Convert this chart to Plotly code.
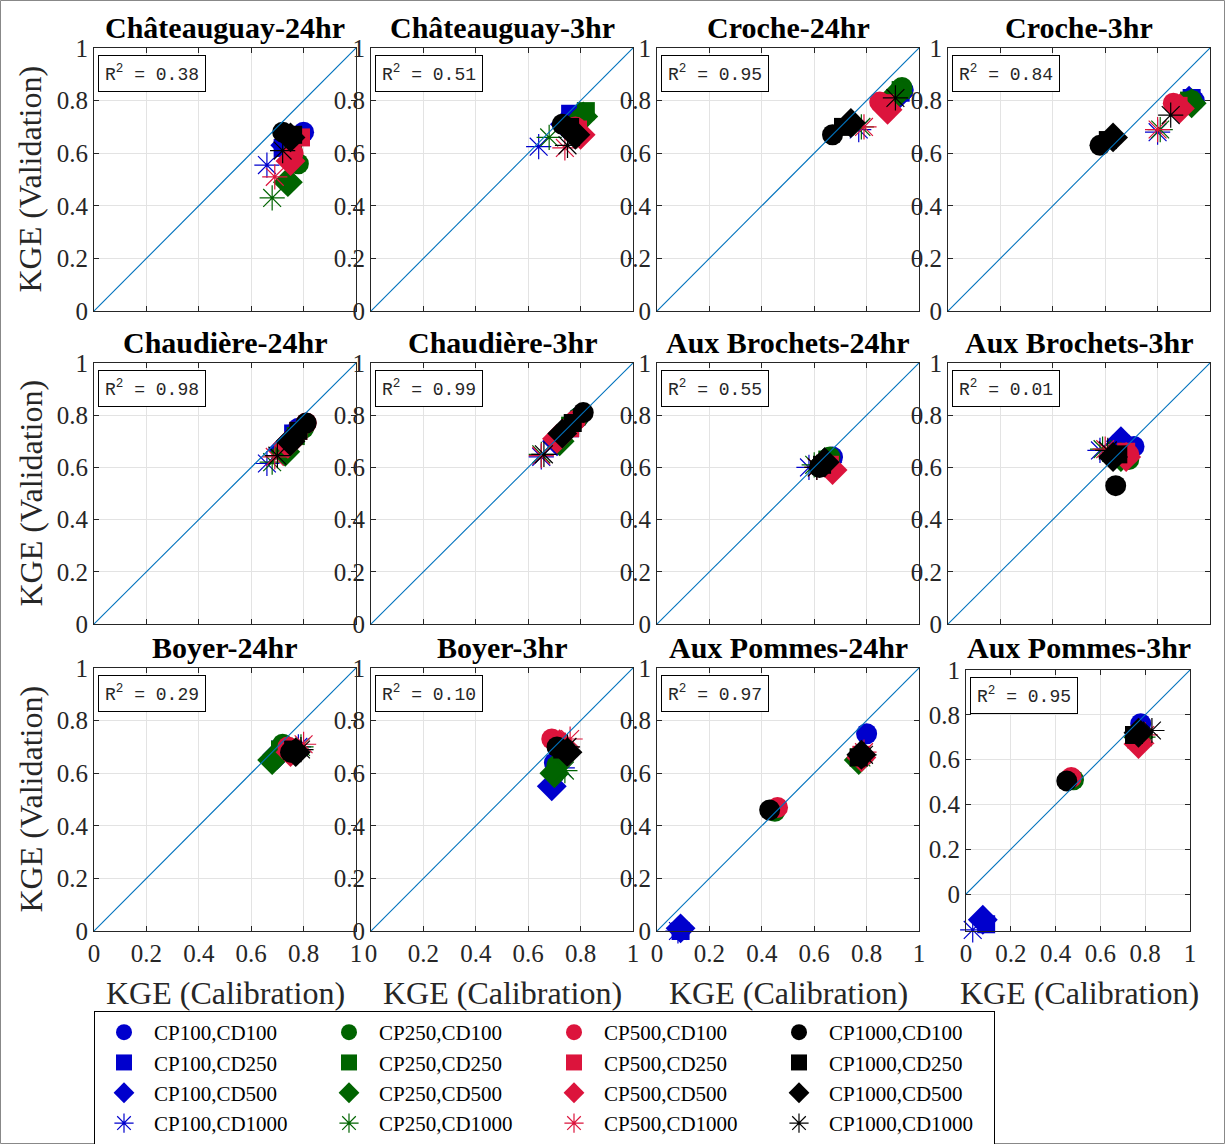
import plotly.graph_objects as go

W, H = 1225, 1144

titles = ["Châteauguay-24hr", "Châteauguay-3hr", "Croche-24hr", "Croche-3hr",
          "Chaudière-24hr", "Chaudière-3hr", "Aux Brochets-24hr", "Aux Brochets-3hr",
          "Boyer-24hr", "Boyer-3hr", "Aux Pommes-24hr", "Aux Pommes-3hr"]
r2_values = ["0.38", "0.51", "0.95", "0.84", "0.98", "0.99", "0.55", "0.01",
             "0.29", "0.10", "0.97", "0.95"]

cps = ["CP100", "CP250", "CP500", "CP1000"]
cds = ["CD100", "CD250", "CD500", "CD1000"]

# Series order: CP100(CD100,CD250,CD500,CD1000), CP250(...), CP500(...), CP1000(...)
chat24_x = [0.80, 0.72, 0.73, 0.66, 0.78, 0.76, 0.74, 0.68, 0.76, 0.79, 0.75, 0.69, 0.72, 0.76, 0.75, 0.72]
chat24_y = [0.68, 0.62, 0.63, 0.555, 0.56, 0.60, 0.49, 0.43, 0.60, 0.66, 0.57, 0.51, 0.68, 0.67, 0.66, 0.61]
chat3_x = [0.77, 0.76, 0.74, 0.64, 0.80, 0.82, 0.81, 0.68, 0.78, 0.79, 0.80, 0.74, 0.73, 0.76, 0.78, 0.75]
chat3_y = [0.74, 0.75, 0.71, 0.625, 0.73, 0.76, 0.74, 0.66, 0.70, 0.69, 0.67, 0.62, 0.71, 0.70, 0.67, 0.63]
croche24_x = [0.94, 0.93, 0.92, 0.77, 0.935, 0.93, 0.92, 0.78, 0.85, 0.87, 0.88, 0.79, 0.67, 0.71, 0.74, 0.91]
croche24_y = [0.84, 0.83, 0.82, 0.69, 0.85, 0.84, 0.83, 0.70, 0.795, 0.79, 0.765, 0.70, 0.67, 0.70, 0.715, 0.81]
croche3_x = [0.94, 0.93, 0.92, 0.80, 0.93, 0.92, 0.93, 0.81, 0.86, 0.88, 0.885, 0.80, 0.58, 0.61, 0.63, 0.85]
croche3_y = [0.80, 0.81, 0.80, 0.68, 0.80, 0.80, 0.79, 0.69, 0.79, 0.78, 0.77, 0.69, 0.63, 0.65, 0.66, 0.745]
chaud24_x = [0.78, 0.76, 0.72, 0.66, 0.80, 0.77, 0.73, 0.68, 0.81, 0.78, 0.74, 0.69, 0.81, 0.78, 0.75, 0.70]
chaud24_y = [0.75, 0.73, 0.67, 0.615, 0.75, 0.72, 0.66, 0.62, 0.77, 0.74, 0.69, 0.64, 0.77, 0.74, 0.70, 0.645]
chaud3_x = [0.79, 0.76, 0.71, 0.65, 0.79, 0.76, 0.72, 0.65, 0.78, 0.76, 0.71, 0.65, 0.81, 0.77, 0.73, 0.66]
chaud3_y = [0.79, 0.75, 0.70, 0.64, 0.79, 0.76, 0.70, 0.65, 0.78, 0.75, 0.71, 0.645, 0.81, 0.77, 0.73, 0.65]
broch24_x = [0.67, 0.66, 0.65, 0.58, 0.66, 0.65, 0.64, 0.60, 0.65, 0.66, 0.67, 0.61, 0.62, 0.63, 0.64, 0.61]
broch24_y = [0.64, 0.63, 0.62, 0.60, 0.64, 0.63, 0.62, 0.61, 0.60, 0.61, 0.59, 0.60, 0.60, 0.61, 0.62, 0.60]
broch3_x = [0.71, 0.66, 0.66, 0.58, 0.69, 0.67, 0.66, 0.59, 0.69, 0.68, 0.68, 0.60, 0.64, 0.65, 0.63, 0.61]
broch3_y = [0.68, 0.69, 0.70, 0.665, 0.63, 0.65, 0.64, 0.67, 0.65, 0.66, 0.64, 0.67, 0.53, 0.65, 0.64, 0.665]
boyer24_x = [0.72, 0.71, 0.70, 0.78, 0.72, 0.71, 0.68, 0.79, 0.74, 0.75, 0.75, 0.80, 0.75, 0.76, 0.77, 0.79]
boyer24_y = [0.70, 0.69, 0.67, 0.70, 0.71, 0.69, 0.65, 0.70, 0.70, 0.69, 0.68, 0.71, 0.68, 0.69, 0.68, 0.69]
boyer3_x = [0.70, 0.70, 0.69, 0.73, 0.71, 0.71, 0.70, 0.74, 0.69, 0.71, 0.72, 0.76, 0.71, 0.73, 0.75, 0.75]
boyer3_y = [0.64, 0.62, 0.55, 0.62, 0.63, 0.62, 0.60, 0.61, 0.73, 0.72, 0.71, 0.73, 0.70, 0.69, 0.68, 0.70]
pommes24_x = [0.80, 0.09, 0.09, 0.08, 0.45, 0.77, 0.77, 0.78, 0.46, 0.78, 0.78, 0.79, 0.43, 0.77, 0.78, 0.79]
pommes24_y = [0.75, 0.00, 0.01, 0.00, 0.455, 0.66, 0.65, 0.66, 0.47, 0.67, 0.66, 0.68, 0.46, 0.66, 0.67, 0.67]
pommes3_x = [0.78, 0.09, 0.075, 0.03, 0.48, 0.77, 0.77, 0.79, 0.47, 0.76, 0.77, 0.80, 0.45, 0.75, 0.77, 0.83]
pommes3_y = [0.76, -0.135, -0.115, -0.16, 0.51, 0.71, 0.70, 0.70, 0.52, 0.69, 0.67, 0.71, 0.505, 0.71, 0.72, 0.73]

data_x = [chat24_x, chat3_x, croche24_x, croche3_x, chaud24_x, chaud3_x,
          broch24_x, broch3_x, boyer24_x, boyer3_x, pommes24_x, pommes3_x]
data_y = [chat24_y, chat3_y, croche24_y, croche3_y, chaud24_y, chaud3_y,
          broch24_y, broch3_y, boyer24_y, boyer3_y, pommes24_y, pommes3_y]

tick_vals = [0, 0.2, 0.4, 0.6, 0.8, 1]
tick_text = ["0", "0.2", "0.4", "0.6", "0.8", "1"]

# styles
colors = ["#0000CD", "#006400", "#DC143C", "#000000"]
symbols = ["circle", "square", "diamond", "asterisk-open"]
msizes = [21, 18, 23, 21]
SERIF = "Liberation Serif"
MONO = "Liberation Mono"

# margins (plot area = paper); left/right chosen so legend wraps at 4 entries per row
ML, MR = 94, 15
GW = W - ML - MR

# axis pixel boxes
cols = [(94, 356), (371, 633), (657, 919), (948, 1210)]
rows = [(48, 311), (363, 624), (668, 931)]


def px(x):
    return (x - ML) / GW


def py(y):
    return 1 - y / H


fig = go.Figure()
layout = {}
annotations = []

for k in range(12):
    r, c = divmod(k, 4)
    x0, x1 = cols[c]
    y0, y1 = rows[r]
    yr = [0, 1]
    if k == 11:
        x0, x1 = 966, 1190
        y0, y1 = 670, 931
        yr = [-0.165, 1]
    ax = "" if k == 0 else str(k + 1)
    xa, ya = "x" + ax, "y" + ax
    common = dict(tickvals=tick_vals, ticktext=tick_text,
                  ticks="inside", ticklen=5, tickcolor="#262626", mirror="ticks",
                  showline=True, linecolor="#262626", linewidth=1,
                  showgrid=True, gridcolor="#e3e3e3", gridwidth=1, zeroline=False,
                  tickfont=dict(family=SERIF, size=25, color="#262626"), fixedrange=True)
    layout["xaxis" + ax] = dict(domain=[px(x0), px(x1)], range=[0, 1], anchor=ya,
                                showticklabels=(r == 2), **common)
    layout["yaxis" + ax] = dict(domain=[py(y1), py(y0)], range=yr, anchor=xa,
                                showticklabels=True, **common)

    for i, cp in enumerate(cps):
        for j, cd in enumerate(cds):
            n = i * 4 + j
            sym = symbols[j]
            mk = dict(color=colors[i], size=msizes[j], symbol=sym)
            if sym == "asterisk-open":
                mk["line"] = dict(color=colors[i], width=1.2)
            else:
                mk["line"] = dict(width=0)
            fig.add_trace(go.Scatter(
                x=[data_x[k][n]], y=[data_y[k][n]], mode="markers",
                marker=mk, xaxis=xa, yaxis=ya, cliponaxis=False,
                name=f"{cp},{cd}", legendgroup=f"{cp},{cd}",
                showlegend=(k == 0), legendrank=j * 4 + i + 1))
    # 1:1 line
    fig.add_trace(go.Scatter(x=[0, 1], y=[0, 1], mode="lines",
                             line=dict(color="#0072BD", width=1.1),
                             xaxis=xa, yaxis=ya, showlegend=False, hoverinfo="skip"))

    # title
    tx = (cols[c][0] + cols[c][1]) / 2
    ty = rows[r][0] - 21
    annotations.append(dict(text=f"<b>{titles[k]}</b>", x=px(tx), y=py(ty),
                            xref="paper", yref="paper", xanchor="center", yanchor="middle",
                            showarrow=False, font=dict(family=SERIF, size=30, color="black")))
    # R2 box
    annotations.append(dict(text=f"R<sup>2</sup> = {r2_values[k]}",
                            x=px(x0 + 4), y=py(y0 + 7), xref="paper", yref="paper",
                            xanchor="left", yanchor="top", showarrow=False,
                            bordercolor="black", borderwidth=1, borderpad=6, bgcolor="white",
                            font=dict(family=MONO, size=18, color="#262626")))
    if c == 0:
        annotations.append(dict(text="KGE (Validation)", x=px(30), y=py((y0 + y1) / 2),
                                xref="paper", yref="paper", textangle=-90,
                                xanchor="center", yanchor="middle", showarrow=False,
                                font=dict(family=SERIF, size=32, color="#262626")))
    if r == 2:
        annotations.append(dict(text="KGE (Calibration)", x=px((cols[c][0] + cols[c][1]) / 2),
                                y=py(993), xref="paper", yref="paper",
                                xanchor="center", yanchor="middle", showarrow=False,
                                font=dict(family=SERIF, size=32, color="#262626")))

fig.update_layout(
    width=W, height=H, margin=dict(l=ML, r=MR, t=0, b=0, autoexpand=False),
    paper_bgcolor="white", plot_bgcolor="white",
    annotations=annotations,
    legend=dict(orientation="h", x=px(94), y=py(1011), xanchor="left", yanchor="top",
                entrywidth=160, entrywidthmode="pixels", itemwidth=50,
                bordercolor="black", borderwidth=1, bgcolor="white",
                font=dict(family=SERIF, size=21, color="black"), tracegroupgap=0),
    shapes=[dict(type="rect", xref="paper", yref="paper", x0=px(0.5), y0=py(H - 0.5),
                 x1=px(W - 0.5), y1=py(0.5), line=dict(color="#888888", width=1))],
    **layout)

fig.write_html("out.html", config={"displayModeBar": False},
               post_script="document.body.style.margin='0px';")
